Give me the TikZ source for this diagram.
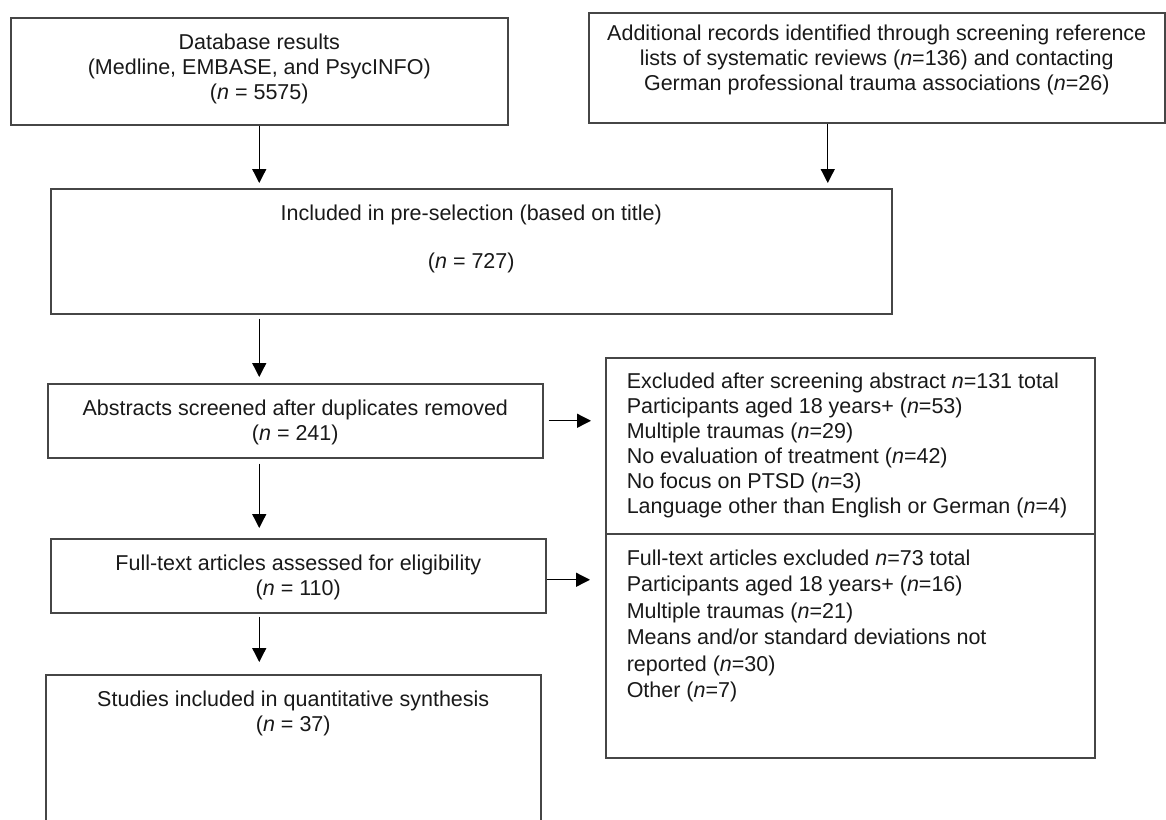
\documentclass[tikz,border=0pt]{standalone}
\usepackage{fontspec}
\setmainfont{Liberation Sans}
\usepackage{tikz}
\usetikzlibrary{positioning,arrows.meta}
\tikzstyle{flowChart} = [x = 1pt, y = -1pt, every node/.style={font=\fontsize{21.5}{25}\selectfont, text=textColor}]
\definecolor{boxColor}{RGB}{70,70,70}
\definecolor{textColor}{RGB}{25,25,25}
\tikzstyle{stageBox} = [draw=boxColor, line width=1.5pt, anchor=north west, inner xsep=0pt, inner ysep=16pt]
\tikzstyle{flowArrow} = [-{Triangle[length=14pt, width=14pt]}, line width=1.3pt, color=black]
\newcommand{\enn}{\textit{n}}
\newcommand{\centerText}[3]{\parbox[t][#1][t]{#2}{\centering #3}}
\newcommand{\listText}[3]{\parbox[t][#1][t]{#2}{\raggedright\leftskip=21pt #3}}

\begin{document}
\begin{tikzpicture}[flowChart]
  \useasboundingbox (0,0) rectangle (1166,819);
  \clip (0,0) rectangle (1166,819);
  % identification
  \node [stageBox] (db) at (10,17) {\centerText{75pt}{497pt}{Database results\\(Medline, EMBASE, and PsycINFO)\\(\enn{} = 5575)}};
  \node [stageBox, inner ysep=12pt] (add) at (588,12) {\centerText{86pt}{576pt}{Additional records identified through screening reference\\lists of systematic reviews (\enn=136) and contacting\\German professional trauma associations (\enn=26)}};
  \node [stageBox] (incl) at (50,188) {\centerText{93pt}{841pt}{Included in pre-selection (based on title)\\[23pt](\enn{} = 727)}};
  % screening
  \node [stageBox] (abs) at (47,383) {\centerText{42pt}{495pt}{Abstracts screened after duplicates removed\\(\enn{} = 241)}};
  \node [stageBox] (full) at (50,538) {\centerText{42pt}{495pt}{Full-text articles assessed for eligibility\\(\enn{} = 110)}};
  \node [stageBox] (stud) at (45,674) {\centerText{140pt}{495pt}{Studies included in quantitative synthesis\\(\enn{} = 37)}};
  % exclusions
  \node [stageBox, inner ysep=15pt] (excA) at (605,357) {\listText{146pt}{489pt}{Excluded after screening abstract \enn=131 total\\
    Participants aged 18 years+ (\enn=53)\\
    Multiple traumas (\enn=29)\\
    No evaluation of treatment (\enn=42)\\
    No focus on PTSD (\enn=3)\\
    Language other than English or German (\enn=4)}};
  \node [stageBox] (excB) at (605,533) {\listText{192pt}{489pt}{\baselineskip=26.5pt Full-text articles excluded \enn=73 total\\
    Participants aged 18 years+ (\enn=16)\\
    Multiple traumas (\enn=21)\\
    Means and/or standard deviations not\\
    reported (\enn=30)\\
    Other (\enn=7)}};
  % arrows
  \draw [flowArrow, shorten >=5pt] (db.south) -- (db.south |- incl.north);
  \draw [flowArrow, shorten >=5pt] ([xshift=-49pt]add.south) -- ([xshift=-49pt]add.south |- incl.north);
  \draw [flowArrow, shorten <=4pt, shorten >=6pt] (db.south |- incl.south) -- (db.south |- abs.north);
  \draw [flowArrow, shorten <=5pt, shorten >=10pt] (db.south |- abs.south) -- (db.south |- full.north);
  \draw [flowArrow, shorten <=3pt, shorten >=12pt] (db.south |- full.south) -- (db.south |- stud.north);
  \draw [flowArrow, shorten <=5pt, shorten >=14pt] (abs.east) -- (abs.east -| excA.west);
  \draw [flowArrow, shorten >=15pt] ([yshift=-4pt]full.east) -- ([yshift=-4pt]full.east -| excB.west);
\end{tikzpicture}
\end{document}
